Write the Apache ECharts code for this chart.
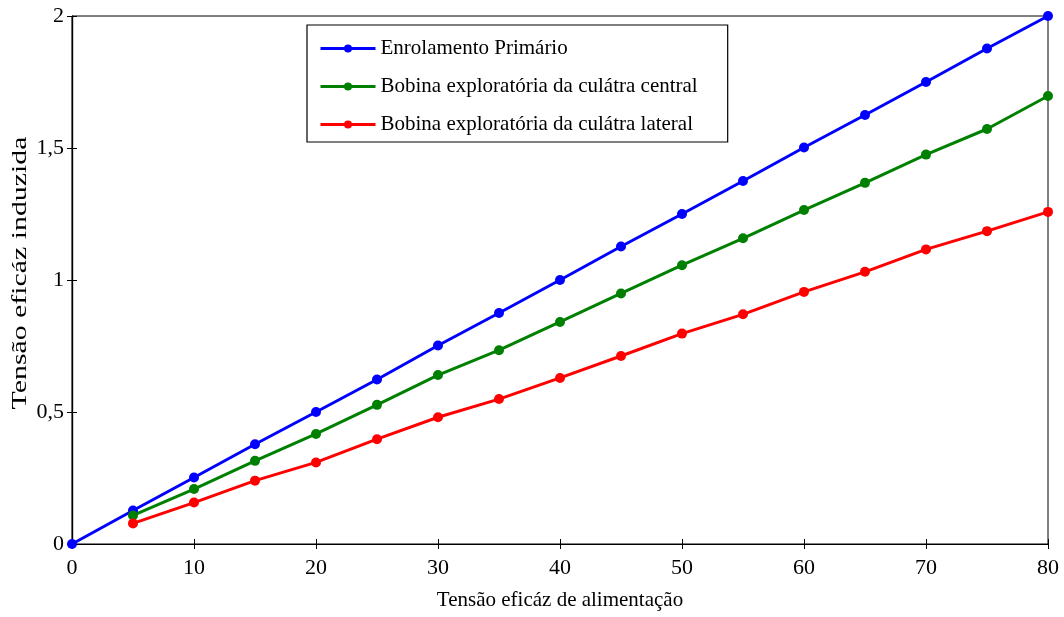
<!DOCTYPE html>
<html>
<head>
<meta charset="utf-8">
<script src="https://cdn.jsdelivr.net/npm/echarts@6/dist/echarts.min.js"></script>
<style>html,body{margin:0;padding:0;background:#fff}#c{width:1064px;height:617px}</style>
</head>
<body>
<div id="c"></div>
<script>
var xBlue = [0,5,10,15,20,25,30,35,40,45,50,55,60,65,70,75,80];
var yBlue = [0,0.127,0.252,0.378,0.5,0.623,0.752,0.875,1.0,1.127,1.25,1.375,1.502,1.625,1.75,1.877,2.0];
var xOther = [5,10,15,20,25,30,35,40,45,50,55,60,65,70,75,80];
var yGreen = [0.108,0.208,0.315,0.417,0.527,0.640,0.734,0.841,0.949,1.056,1.158,1.265,1.368,1.475,1.572,1.697];
var yRed = [0.078,0.157,0.240,0.309,0.397,0.480,0.549,0.629,0.712,0.797,0.870,0.955,1.031,1.116,1.185,1.258];
var names = ['Enrolamento Primário','Bobina exploratória da culátra central','Bobina exploratória da culátra lateral'];
var yTickLabels = {'0':'0','0.5':'0,5','1':'1','1.5':'1,5','2':'2'};
var xAxisName = 'Tensão eficáz de alimentação';
var yAxisName = 'Tensão eficáz induzida';

function pairs(xs, ys){ return xs.map(function(x,i){return [x, ys[i]];}); }
var font = 'Liberation Serif';
var chart = echarts.init(document.getElementById('c'));
function mkSeries(name, data, color){
  return {name:name, type:'line', data:data, symbol:'circle', symbolSize:10, clip:false,
    lineStyle:{color:color, width:3}, itemStyle:{color:color}, animation:false};
}
chart.setOption({
  animation:false,
  backgroundColor:'#fff',
  grid:{left:72,right:16,top:16,bottom:73,show:true,borderColor:'#000',borderWidth:1,
    containLabel:false, outerBoundsMode:'none'},
  graphic:[{
    type:'text', x:20, y:273, rotation:Math.PI/2, scaleX:1.42, scaleY:1,
    style:{text:yAxisName, font:'21px "Liberation Serif"', fill:'#000',
      align:'center', verticalAlign:'middle'}
  }],
  legend:{
    orient:'vertical', left:307, top:25, data:names,
    backgroundColor:'#fff', borderColor:'#000', borderWidth:1.2,
    padding:[13,30,7,12], itemGap:17, itemWidth:55, itemHeight:10,
    lineStyle:{width:3},
    textStyle:{fontFamily:font, fontSize:21, color:'#000'}
  },
  xAxis:[{
    type:'value', min:0, max:80, interval:10,
    name:xAxisName, nameLocation:'middle', nameGap:46,
    nameTextStyle:{fontFamily:font, fontSize:21, color:'#000'},
    axisLine:{show:true, lineStyle:{color:'#000',width:1.2}},
    axisTick:{inside:true, length:5, lineStyle:{color:'#000'}},
    axisLabel:{fontFamily:font, fontSize:22, color:'#000', margin:13},
    splitLine:{show:false}
  },{
    type:'value', position:'top', min:0, max:80, interval:10,
    axisLine:{show:true, lineStyle:{color:'#000',width:1.2}},
    axisTick:{inside:true, length:5, lineStyle:{color:'#000'}},
    axisLabel:{show:false}, splitLine:{show:false}
  }],
  yAxis:[{
    type:'value', min:0, max:2, interval:0.5,
    axisLine:{show:true, lineStyle:{color:'#000',width:1.2}},
    axisTick:{inside:true, length:5, lineStyle:{color:'#000'}},
    axisLabel:{fontFamily:font, fontSize:22, color:'#000', margin:8,
      formatter:function(v){ return yTickLabels[String(v)] !== undefined ? yTickLabels[String(v)] : String(v); }},
    splitLine:{show:false}
  },{
    type:'value', position:'right', min:0, max:2, interval:0.5,
    axisLine:{show:true, lineStyle:{color:'#000',width:1.2}},
    axisTick:{inside:true, length:5, lineStyle:{color:'#000'}},
    axisLabel:{show:false}, splitLine:{show:false}
  }],
  series:[
    mkSeries(names[0], pairs(xBlue,yBlue), '#0000ff'),
    mkSeries(names[1], pairs(xOther,yGreen), '#008000'),
    mkSeries(names[2], pairs(xOther,yRed), '#ff0000')
  ]
});
</script>
</body>
</html>
